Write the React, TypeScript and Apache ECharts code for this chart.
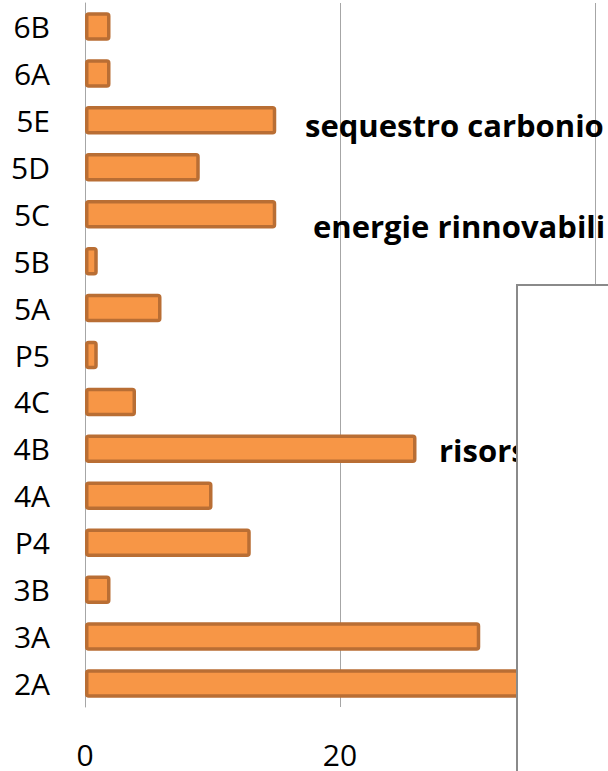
import React, { useEffect, useRef } from "react";
import * as echarts from "echarts";

const categories = ["2A", "3A", "3B", "P4", "4A", "4B", "4C", "P5", "5A", "5B", "5C", "5D", "5E", "6A", "6B"];
const values = [35, 31, 2, 13, 10, 26, 4, 1, 6, 1, 15, 9, 15, 2, 2];
const xTicks = { min: 0, max: 40, interval: 20 };
const overlayTexts = ["sequestro carbonio", "energie rinnovabili", "risors"];

const FONT = "'Open Sans', 'Noto Sans', sans-serif";

export default function App() {
  const ref = useRef<HTMLDivElement>(null);
  useEffect(() => {
    if (!ref.current) return;
    const chart = echarts.init(ref.current, null, { renderer: "svg" });
    chart.setOption({
      animation: false,
      backgroundColor: "#ffffff",
      grid: { left: 85, right: 13, top: 3, bottom: 64, containLabel: false, outerBoundsMode: "none" },
      xAxis: {
        type: "value",
        min: xTicks.min,
        max: xTicks.max,
        interval: xTicks.interval,
        axisLine: { show: false },
        axisTick: { show: false },
        splitLine: { show: true, lineStyle: { color: "#a6a6a6", width: 1 } },
        axisLabel: { color: "#000", fontSize: 30, lineHeight: 28, fontFamily: FONT, margin: 33 },
      },
      yAxis: {
        type: "category",
        data: categories,
        axisLine: { show: true, lineStyle: { color: "#a6a6a6", width: 1 } },
        axisTick: { show: false },
        axisLabel: { color: "#000", fontSize: 30, fontFamily: FONT, margin: 35 },
      },
      series: [
        {
          type: "bar",
          data: values,
          barWidth: 28.5,
          itemStyle: {
            color: "#f79646",
            borderColor: "#b96e34",
            borderWidth: 3.5,
            borderRadius: 2,
          },
        },
      ],
      graphic: [
        {
          type: "text",
          left: 305,
          top: 109,
          z: 10,
          style: { text: overlayTexts[0], fontSize: 31, fontWeight: "bold", fontFamily: FONT, fill: "#000" },
        },
        {
          type: "text",
          left: 313,
          top: 210,
          z: 10,
          style: { text: overlayTexts[1], fontSize: 31, fontWeight: "bold", fontFamily: FONT, fill: "#000" },
        },
        {
          type: "text",
          left: 439,
          top: 434,
          z: 10,
          style: { text: overlayTexts[2], fontSize: 31, fontWeight: "bold", fontFamily: FONT, fill: "#000" },
        },
        {
          type: "rect",
          z: 100,
          shape: { x: 517, y: 285, width: 200, height: 600 },
          style: { fill: "#ffffff", stroke: "#8a8a8a", lineWidth: 2 },
        },
      ],
    });
    return () => chart.dispose();
  }, []);
  return <div ref={ref} style={{ position: "absolute", left: 0, top: 0, width: 608, height: 771 }} />;
}
